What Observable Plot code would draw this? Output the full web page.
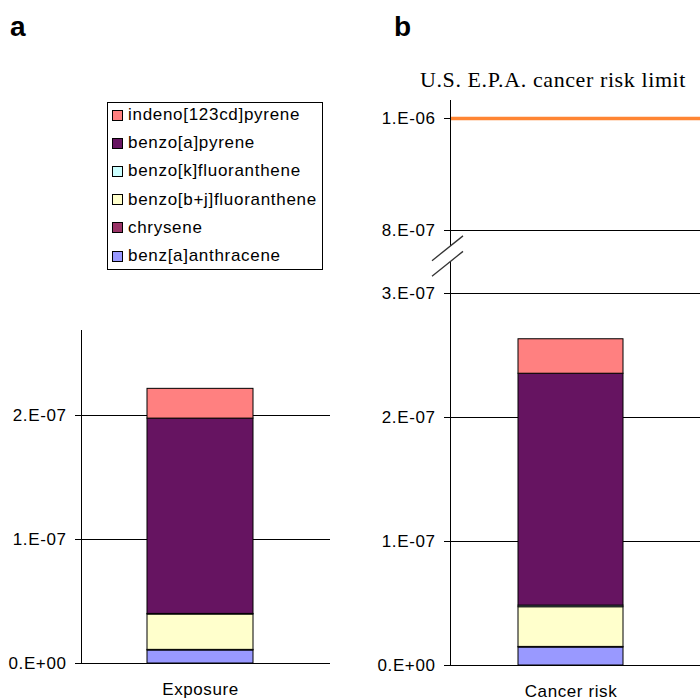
<!DOCTYPE html>
<html>
<head>
<meta charset="utf-8">
<script src="https://cdn.jsdelivr.net/npm/d3@7"></script>
<script src="https://cdn.jsdelivr.net/npm/@observablehq/plot@0.6"></script>
<style>
  body { margin: 0; background: #fff; }
  #root { position: relative; width: 700px; height: 700px; overflow: hidden; background: #fff;
          font-family: "Liberation Sans", Arial, sans-serif; color: #000; }
  #root svg { position: absolute; top: 0; }
  #root svg text { letter-spacing: 0.6px; }
  .panel-label { position: absolute; font: bold 28px "Liberation Sans", Arial, sans-serif; line-height: 1; }
  .epa { position: absolute; font: 22px "Liberation Serif", "Times New Roman", serif; letter-spacing: 0.6px;
         white-space: nowrap; transform: translateX(-50%); line-height: 1; }
  .legend { position: absolute; left: 107px; top: 101.5px; width: 215.5px; height: 168px;
            box-sizing: border-box; border: 1px solid #000; background: #fff; }
  .legend .row { position: absolute; left: 0; height: 20px; display: flex; align-items: center;
                 font-size: 17px; letter-spacing: 0.7px; white-space: nowrap; }
  .legend .sw { width: 9px; height: 9px; border: 1px solid #000; margin-left: 4px; margin-right: 5px; flex: none; }
</style>
</head>
<body>
<div id="root"></div>
<script>
// ---- data ----
const series = ["benz[a]anthracene", "chrysene", "benzo[b+j]fluoranthene", "benzo[k]fluoranthene", "benzo[a]pyrene", "indeno[123cd]pyrene"];
const seriesColors = ["#9999FF", "#993366", "#FFFFCC", "#CCFFFF", "#661461", "#FF8080"];
const exposure   = [1.05e-8, 0.05e-8, 2.85e-8, 0.05e-8, 1.575e-7, 2.4e-8];
const cancerRisk = [1.45e-8, 0.05e-8, 3.2e-8, 0.13e-8, 1.87e-7, 2.78e-8];
const categoryA = "Exposure";
const categoryB = "Cancer risk";
const ticksA = [0, 1e-7, 2e-7];
const tickLabelsA = ["0.E+00", "1.E-07", "2.E-07"];
const ticksB = [0, 1e-7, 2e-7, 3e-7, 8e-7, 1e-6];
const tickLabelsB = ["0.E+00", "1.E-07", "2.E-07", "3.E-07", "8.E-07", "1.E-06"];
const epaLimit = [1e-6];
const epaLabel = "U.S. E.P.A. cancer risk limit";
const breakValue = 6.2e-7;

const root = document.getElementById("root");
const font = {fontFamily: "'Liberation Sans', Arial, sans-serif", fontSize: "17px", overflow: "visible", background: "transparent"};

// ---- panel a ----
const dataA = series.map((s, i) => ({cat: categoryA, series: s, value: exposure[i]}));
const plotA = Plot.plot({
  width: 350, height: 700,
  marginLeft: 81, marginRight: 20, marginTop: 330, marginBottom: 37,
  style: font,
  x: {domain: [categoryA], paddingInner: 0.403, paddingOuter: 0.403, align: 0.4615},
  y: {domain: [0, 2.6855e-7]},
  color: {domain: series, range: seriesColors},
  marks: [
    Plot.ruleY(ticksA, {stroke: "#000", strokeWidth: 1}),
    Plot.barY(dataA, {x: "cat", y: "value", fill: "series", stroke: "#000", strokeWidth: 1}),
    Plot.frame({anchor: "left", stroke: "#000"}),
    Plot.axisY(ticksA, {tickSize: 6, tickPadding: 9, tickFormat: d => tickLabelsA[ticksA.indexOf(d)], label: null, stroke: "#000", fill: "#000"}),
    Plot.axisX({tickSize: 0, tickPadding: 19, label: null, fill: "#000"})
  ]
});
plotA.style.left = "0px";
root.appendChild(plotA);

// ---- panel b (broken axis via piecewise scale) ----
const dataB = series.map((s, i) => ({cat: categoryB, series: s, value: cancerRisk[i]}));
const plotB = Plot.plot({
  width: 350, height: 700,
  marginLeft: 100, marginRight: 0, marginTop: 100, marginBottom: 35,
  style: font,
  x: {domain: [categoryB], paddingInner: 0.4045, paddingOuter: 0.4045, align: 0.467},
  y: {type: "linear", domain: [0, 3e-7, 8e-7, 1e-6], range: [665, 293, 230, 118]},
  color: {domain: series, range: seriesColors},
  marks: [
    Plot.ruleY(ticksB.filter(d => d < epaLimit[0]), {stroke: "#000", strokeWidth: 1}),
    Plot.barY(dataB, {x: "cat", y: "value", fill: "series", stroke: "#000", strokeWidth: 1}),
    Plot.ruleY(epaLimit, {stroke: "#FF8533", strokeWidth: 3.5}),
    Plot.frame({anchor: "left", stroke: "#000"}),
    Plot.axisY(ticksB, {tickSize: 6, tickPadding: 9, tickFormat: d => tickLabelsB[ticksB.indexOf(d)], label: null, stroke: "#000", fill: "#000"}),
    Plot.axisX({tickSize: 0, tickPadding: 19, label: null, fill: "#000"})
  ]
});
plotB.style.left = "350px";
root.appendChild(plotB);

// axis break marks
{
  const yc = plotB.scale("y").apply(breakValue);
  const x0 = 100;
  const l1 = [[x0 - 18, yc + 8], [x0 + 13, yc - 16.8]];
  const l2 = [[x0 - 18, yc + 23.5], [x0 + 13, yc - 1.3]];
  const g = d3.select(plotB).append("g");
  g.append("polygon")
    .attr("points", [l1[0], l1[1], l2[1], l2[0]].map(p => p.join(",")).join(" "))
    .attr("fill", "#fff");
  for (const l of [l1, l2]) {
    g.append("line").attr("x1", l[0][0]).attr("y1", l[0][1]).attr("x2", l[1][0]).attr("y2", l[1][1])
      .attr("stroke", "#333").attr("stroke-width", 1.3);
  }
}

// ---- labels ----
const la = document.createElement("div");
la.className = "panel-label"; la.textContent = "a";
la.style.left = "10px"; la.style.top = "13px";
root.appendChild(la);
const lb = document.createElement("div");
lb.className = "panel-label"; lb.textContent = "b";
lb.style.left = "394px"; lb.style.top = "13px";
root.appendChild(lb);

const epa = document.createElement("div");
epa.className = "epa"; epa.textContent = epaLabel;
epa.style.left = "553px"; epa.style.top = "69px";
root.appendChild(epa);

// ---- legend (top entry = last series) ----
const legend = document.createElement("div");
legend.className = "legend";
series.slice().reverse().forEach((s, i) => {
  const idx = series.indexOf(s);
  const row = document.createElement("div");
  row.className = "row";
  row.style.top = (2.5 + i * 28.2) + "px";
  const sw = document.createElement("span");
  sw.className = "sw"; sw.style.background = seriesColors[idx];
  const tx = document.createElement("span");
  tx.textContent = s;
  row.appendChild(sw); row.appendChild(tx);
  legend.appendChild(row);
});
root.appendChild(legend);
</script>
</body>
</html>
